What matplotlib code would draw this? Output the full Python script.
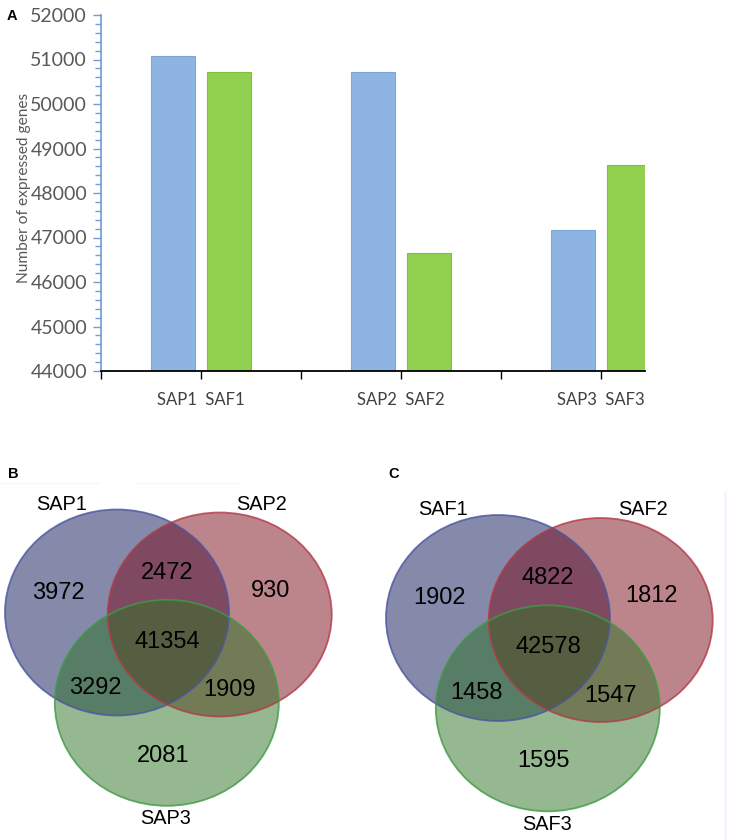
import matplotlib
matplotlib.use("Agg")
import matplotlib.pyplot as plt
from matplotlib.patches import Ellipse
from matplotlib.ticker import MultipleLocator

# bar chart data
samples = ["SAP1", "SAF1", "SAP2", "SAF2", "SAP3", "SAF3"]
sap_values = [51070, 50730, 47160]
saf_values = [50730, 46660, 48620]
group_labels = ["SAP1  SAF1", "SAP2  SAF2", "SAP3  SAF3"]

# venn data, regions: only1, only2, only3, 1&2, 1&3, 2&3, all
regions = ["100", "010", "001", "110", "101", "011", "111"]
sap_sets = ["SAP1", "SAP2", "SAP3"]
sap_counts = [3972, 930, 2081, 2472, 3292, 1909, 41354]
saf_sets = ["SAF1", "SAF2", "SAF3"]
saf_counts = [1902, 1812, 1595, 4822, 1458, 1547, 42578]

fig = plt.figure(figsize=(7.37, 8.4), dpi=100)

# ---- panel A ----
ax = fig.add_axes([101 / 737, 1 - 371 / 840, 544 / 737, 356 / 840])
pos = [1, 2, 3]
off = 0.142
w = 0.22
ax.bar([p - off for p in pos], sap_values, w, color="#8EB4E3",
       edgecolor="#7EA6DA", linewidth=0.8, zorder=2)
ax.bar([p + off for p in pos], saf_values, w, color="#92D050",
       edgecolor="#7CC33A", linewidth=0.8, zorder=2)
ax.set_xlim(0.5, 3.22)
ax.set_ylim(44000, 52000)
ax.set_xticks([0.5, 1, 1.5, 2, 2.5, 3])
ax.set_xticklabels(["", group_labels[0], "", group_labels[1], "", group_labels[2]])
ax.yaxis.set_major_locator(MultipleLocator(1000))
ax.yaxis.set_minor_locator(MultipleLocator(200))
for s in ["top", "right"]:
    ax.spines[s].set_visible(False)
ax.spines["left"].set_color("#6F9BD6")
ax.spines["left"].set_linewidth(1.2)
ax.spines["bottom"].set_color("#000000")
ax.spines["bottom"].set_linewidth(1.3)
ax.tick_params(axis="y", which="major", length=6, width=1, color="#6F9BD6",
               labelsize=14, labelcolor="#595959", pad=4)
ax.tick_params(axis="y", which="minor", length=4, width=1, color="#6F9BD6")
ax.tick_params(axis="x", length=6, width=1, color="#000000",
               labelsize=12, labelcolor="#404040", pad=9)
for t in ax.get_yticklabels() + ax.get_xticklabels():
    t.set_family("Lato")
fig.text(24.5 / 737, 1 - 188 / 840, "Number of expressed genes", family="Lato",
         fontsize=11.2, color="#595959", rotation=90, ha="center", va="center")
fig.text(12 / 737, 1 - 16 / 840, "A", family="Liberation Sans",
         fontweight="bold", fontsize=10.5, ha="center", va="center")

# ---- panels B and C ----
vx = fig.add_axes([0, 0, 1, 1], zorder=-1)
vx.set_xlim(0, 737)
vx.set_ylim(840, 0)
vx.axis("off")

ellipses = [(117, 612.5, 224, 206), (219.7, 614.5, 224, 204),
            (166.8, 702.8, 224, 206)]
fills = ["#0C1759", "#7A0C18", "#2C7222"]
edges = ["#4A55A0", "#B33A48", "#3F9A46"]
region_xy = {"100": (58.8, 590.5), "010": (271, 588.5), "001": (163, 753),
             "110": (167, 570.5), "101": (95.4, 685.3), "011": (230, 688),
             "111": (167, 639)}
set_xy = [(62, 502), (261.5, 502), (165.8, 816.5)]


def venn(dx, dy, names, counts, letter):
    for (cx, cy, ew, eh), fc in zip(ellipses, fills):
        vx.add_patch(Ellipse((cx + dx, cy + dy), ew, eh, facecolor=fc,
                             alpha=0.5, edgecolor="none"))
    for (cx, cy, ew, eh), ec in zip(ellipses, edges):
        vx.add_patch(Ellipse((cx + dx, cy + dy), ew, eh, facecolor="none",
                             edgecolor=ec, linewidth=1.3, alpha=0.8))
    for r, c in zip(regions, counts):
        x, y = region_xy[r]
        vx.text(x + dx, y + dy, str(c), family="Liberation Sans",
                fontsize=17, ha="center", va="center_baseline")
    for (x, y), n in zip(set_xy, names):
        vx.text(x + dx, y + dy, n, family="Liberation Sans",
                fontsize=14.3, ha="center", va="center_baseline")
    vx.text(12.8 + dx, 472.3, letter, family="Liberation Sans",
            fontweight="bold", fontsize=10.5, ha="center", va="center_baseline")


venn(0, 0, sap_sets, sap_counts, "B")
vx.plot([0, 100], [483, 483], color="#f7f7f7", lw=1)
vx.plot([135, 240], [483, 483], color="#f7f7f7", lw=1)
venn(381, 5.5, saf_sets, saf_counts, "C")
vx.plot([725, 725], [492, 840], color="#f2f6fb", lw=2)

fig.savefig("out.png", dpi=100)
